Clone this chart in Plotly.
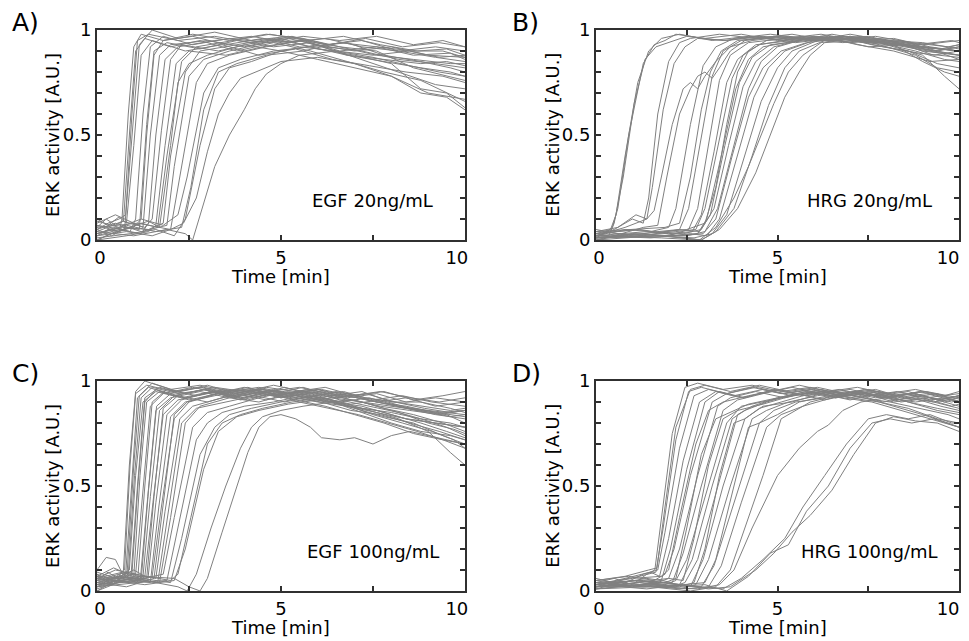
import plotly.graph_objects as go

GREY = "#808080"
AXIS = "#303030"
FONT = "DejaVu Sans"

# ERK activity traces, one list of (time [min], activity [A.U.]) per cell

egf20 = [
    [(0, .02), (0.3, .05), (0.6, .04), (0.68, .1), (0.85, .6), (1.0, .92), (1.2, .98), (1.8, .95), (2.6, .97), (3.5, .93), (4.5, .96), (5.5, .92), (6.5, .9), (7.5, .88), (8.5, .9), (9.3, .87), (10, .88)],
    [(0, .06), (0.25, .1), (0.5, .07), (0.72, .09), (0.9, .55), (1.05, .9), (1.3, .96), (2, .92), (2.8, .95), (3.8, .9), (4.8, .94), (5.8, .9), (6.8, .85), (7.8, .8), (8.8, .76), (9.5, .7), (10, .66)],
    [(0, .0), (0.4, .03), (0.75, .05), (0.95, .5), (1.15, .93), (1.5, 1.0), (2.2, .96), (3.2, .99), (4.2, .95), (5.2, .97), (6.2, .93), (7.2, .95), (8.2, .9), (9.2, .92), (10, .9)],
    [(0, .1), (0.3, .07), (0.6, .11), (0.8, .08), (1.0, .45), (1.2, .88), (1.5, .95), (2.4, .9), (3.4, .93), (4.4, .88), (5.4, .91), (6.4, .86), (7.4, .83), (8.4, .8), (9.4, .78), (10, .75)],
    [(0, .03), (0.5, .06), (0.9, .04), (1.05, .1), (1.25, .6), (1.45, .92), (1.8, .97), (2.6, .93), (3.6, .96), (4.6, .94), (5.6, .95), (6.6, .9), (7.6, .92), (8.6, .88), (9.6, .89), (10, .86)],
    [(0, .05), (0.4, .02), (0.8, .06), (1.15, .05), (1.35, .55), (1.55, .9), (1.9, .94), (2.8, .91), (3.8, .95), (4.8, .92), (5.8, .94), (6.8, .88), (7.8, .85), (8.8, .82), (9.6, .8), (10, .78)],
    [(0, .08), (0.5, .12), (1.0, .08), (1.25, .06), (1.45, .5), (1.7, .88), (2.0, .93), (3.0, .95), (4.0, .92), (5.0, .96), (6.0, .91), (7.0, .88), (8.0, .84), (8.8, .72), (9.5, .7), (10, .63)],
    [(0, .02), (0.6, .05), (1.2, .03), (1.4, .08), (1.6, .5), (1.85, .86), (2.2, .92), (3.2, .95), (4.2, .97), (5.2, .94), (6.2, .96), (7.2, .92), (8.2, .9), (9.2, .87), (10, .85)],
    [(0, .04), (0.7, .09), (1.3, .06), (1.5, .1), (1.75, .52), (2.0, .86), (2.3, .93), (3.3, .9), (4.3, .94), (5.3, .97), (6.3, .93), (7.3, .96), (8.3, .92), (9.3, .94), (10, .92)],
    [(0, .0), (0.8, .02), (1.4, .04), (1.6, .07), (1.85, .45), (2.15, .84), (2.5, .9), (3.5, .88), (4.5, .92), (5.5, .95), (6.5, .9), (7.5, .84), (8.5, .78), (9.2, .74), (10, .72)],
    [(0, .07), (0.6, .04), (1.2, .08), (1.65, .06), (1.9, .4), (2.3, .85), (2.7, .92), (3.7, .95), (4.7, .98), (5.7, .95), (6.7, .97), (7.7, .93), (8.7, .9), (9.5, .91), (10, .88)],
    [(0, .03), (0.7, .06), (1.4, .05), (1.8, .08), (2.0, .4), (2.4, .8), (2.8, .9), (3.8, .93), (4.8, .96), (5.8, .92), (6.8, .94), (7.8, .88), (8.8, .85), (9.6, .82), (10, .8)],
    [(0, .05), (0.5, .08), (1.2, .04), (1.9, .07), (2.1, .35), (2.5, .78), (2.9, .86), (3.6, .9), (4.6, .94), (5.6, .97), (6.6, .95), (7.6, .97), (8.6, .93), (9.4, .95), (10, .92)],
    [(0, .02), (0.8, .04), (1.5, .02), (2.0, .05), (2.25, .3), (2.7, .75), (3.0, .84), (3.6, .88), (4.6, .92), (5.6, .95), (6.6, .92), (7.6, .9), (8.6, .82), (9.3, .79), (10, .76)],
    [(0, .09), (0.6, .06), (1.2, .1), (1.8, .07), (2.2, .12), (2.45, .3), (2.9, .7), (3.3, .82), (3.9, .86), (4.8, .9), (5.8, .92), (6.8, .88), (7.8, .86), (8.8, .84), (9.5, .85), (10, .83)],
    [(0, .01), (0.9, .03), (1.6, .05), (2.1, .02), (2.4, .1), (2.8, .45), (3.2, .72), (3.6, .82), (4.2, .85), (5.0, .9), (6.0, .93), (7.0, .9), (8.0, .92), (9.0, .88), (10, .87)],
    [(0, .04), (1.0, .02), (1.9, .05), (2.4, .03), (2.6, .0), (2.8, .12), (3.2, .35), (3.6, .5), (4.0, .62), (4.3, .72), (4.6, .79), (5.0, .84), (5.5, .88), (6.5, .9), (7.5, .87), (8.5, .83), (9.3, .8), (10, .78)],
    [(0, .06), (1.1, .08), (2.0, .05), (2.35, .08), (2.7, .2), (3.0, .42), (3.3, .6), (3.6, .7), (3.9, .77), (4.3, .8), (5.0, .85), (6.0, .87), (7.0, .84), (8.0, .78), (8.8, .7), (9.5, .68), (10, .62)],
    [(0, .05), (0.3, .08), (0.6, .1), (0.78, .12), (0.95, .6), (1.1, .95), (1.4, .98), (2.2, .95), (3.2, .97), (4.2, .94), (5.2, .96), (6.2, .92), (7.2, .9), (8.2, .86), (9.2, .84), (10, .82)],
    [(0, .0), (0.5, .04), (1.0, .06), (1.2, .1), (1.35, .5), (1.55, .88), (1.8, .95), (2.6, .98), (3.6, .95), (4.6, .98), (5.6, .96), (6.6, .92), (7.6, .88), (8.6, .86), (9.6, .84), (10, .84)],
    [(0, .07), (0.7, .05), (1.4, .09), (1.7, .06), (2.0, .45), (2.2, .75), (2.5, .84), (3.0, .88), (4.0, .93), (5.0, .9), (6.0, .86), (7.0, .82), (8.0, .78), (9.0, .7), (10, .67)],
    [(0, .03), (0.8, .07), (1.6, .04), (2.3, .06), (2.55, .25), (2.9, .62), (3.3, .8), (3.8, .84), (4.6, .88), (5.6, .9), (6.6, .94), (7.6, .92), (8.6, .9), (9.4, .9), (10, .87)],
]

hrg20 = [
    [(0, .01), (0.3, .04), (0.45, .06), (0.6, .15), (0.9, .5), (1.3, .84), (1.6, .93), (1.9, .95), (2.2, .98), (3, .96), (4, .98), (5, .95), (6, .97), (7, .94), (8, .95), (9, .9), (10, .88)],
    [(0, .03), (0.35, .02), (0.5, .08), (0.75, .3), (1.05, .65), (1.35, .86), (1.65, .92), (2.0, .94), (2.5, .97), (3.5, .95), (4.5, .97), (5.5, .94), (6.5, .96), (7.5, .92), (8.5, .93), (9.3, .88), (10, .9)],
    [(0, .02), (0.5, .05), (1.0, .1), (1.3, .08), (1.45, .2), (1.7, .6), (2.0, .85), (2.3, .94), (2.6, .96), (3.4, .98), (4.4, .96), (5.4, .98), (6.4, .95), (7.4, .96), (8.4, .93), (9.4, .9), (10, .92)],
    [(0, .04), (0.6, .06), (1.1, .12), (1.4, .1), (1.55, .25), (1.85, .62), (2.15, .84), (2.45, .92), (2.8, .96), (3.6, .95), (4.6, .97), (5.6, .95), (6.6, .97), (7.6, .93), (8.6, .9), (9.4, .84), (10, .82)],
    [(0, .0), (0.7, .03), (1.3, .06), (1.7, .07), (1.95, .3), (2.3, .6), (2.6, .72), (2.8, .78), (3.0, .8), (3.2, .77), (3.4, .82), (3.7, .9), (4.1, .95), (5, .97), (6, .95), (7, .97), (8, .94), (9, .92), (10, .9)],
    [(0, .02), (0.8, .05), (1.5, .04), (2.0, .06), (2.2, .15), (2.6, .55), (2.95, .83), (3.3, .92), (3.8, .96), (4.8, .98), (5.8, .96), (6.8, .97), (7.8, .94), (8.8, .92), (10, .9)],
    [(0, .05), (0.9, .02), (1.7, .04), (2.3, .05), (2.55, .15), (2.9, .5), (3.2, .78), (3.5, .9), (4.0, .95), (5.0, .97), (6.0, .95), (7.0, .98), (8.0, .95), (9.0, .93), (10, .95)],
    [(0, .01), (1.0, .03), (2.0, .02), (2.55, .05), (2.8, .15), (3.1, .45), (3.4, .76), (3.7, .88), (4.2, .94), (5.2, .96), (6.2, .98), (7.2, .95), (8.2, .96), (9.2, .92), (10, .9)],
    [(0, .03), (1.1, .05), (2.0, .03), (2.65, .04), (2.9, .12), (3.25, .42), (3.6, .75), (3.9, .86), (4.4, .93), (5.4, .95), (6.4, .97), (7.4, .94), (8.4, .95), (9.4, .9), (10, .88)],
    [(0, .02), (1.2, .02), (2.2, .04), (2.75, .05), (3.0, .15), (3.4, .48), (3.75, .77), (4.05, .88), (4.5, .93), (5.5, .96), (6.5, .95), (7.5, .97), (8.5, .93), (9.5, .91), (10, .93)],
    [(0, .0), (1.0, .03), (2.1, .02), (2.8, .03), (3.05, .1), (3.45, .4), (3.85, .72), (4.2, .86), (4.6, .92), (5.5, .95), (6.5, .98), (7.5, .95), (8.5, .92), (9.5, .89), (10, .86)],
    [(0, .04), (1.3, .02), (2.3, .05), (2.85, .04), (3.15, .12), (3.55, .45), (3.95, .75), (4.3, .87), (4.8, .93), (5.8, .95), (6.8, .97), (7.8, .93), (8.8, .88), (9.4, .82), (10, .8)],
    [(0, .02), (1.4, .04), (2.4, .03), (2.9, .05), (3.25, .15), (3.65, .45), (4.05, .73), (4.4, .85), (4.9, .92), (5.8, .96), (6.8, .94), (7.8, .96), (8.8, .93), (9.8, .95), (10, .94)],
    [(0, .01), (1.5, .02), (2.5, .02), (3.0, .04), (3.35, .15), (3.8, .45), (4.2, .72), (4.55, .85), (5.0, .92), (6.0, .97), (7.0, .95), (8.0, .93), (9.0, .88), (9.6, .78), (10, .72)],
    [(0, .03), (1.2, .05), (2.3, .02), (2.95, .03), (3.3, .1), (3.75, .4), (4.2, .68), (4.6, .82), (5.1, .9), (5.8, .94), (6.8, .96), (7.8, .94), (8.8, .9), (9.6, .86), (10, .85)],
    [(0, .02), (1.5, .01), (2.6, .03), (3.05, .02), (3.4, .1), (3.9, .4), (4.35, .68), (4.75, .82), (5.2, .9), (6.0, .95), (7.0, .97), (8.0, .95), (9.0, .94), (10, .91)],
    [(0, .0), (1.6, .02), (2.7, .01), (3.2, .03), (3.6, .12), (4.05, .38), (4.55, .66), (5.0, .82), (5.4, .9), (6.1, .95), (7.1, .96), (8.1, .94), (9.1, .92), (10, .9)],
    [(0, .01), (1.8, .02), (2.9, .0), (3.3, .04), (3.8, .15), (4.3, .4), (4.75, .64), (5.2, .82), (5.6, .9), (6.3, .95), (7.3, .97), (8.3, .94), (9.3, .9), (10, .88)],
    [(0, .02), (1.8, .01), (2.85, .0), (3.3, .06), (3.8, .2), (4.2, .35), (4.55, .5), (4.9, .65), (5.3, .8), (5.7, .88), (6.2, .94), (7.0, .96), (8.0, .95), (9.0, .92), (10, .9)],
    [(0, .01), (1.9, .02), (2.9, .0), (3.4, .05), (3.9, .15), (4.4, .32), (4.8, .5), (5.2, .68), (5.6, .8), (5.9, .88), (6.3, .94), (7.2, .95), (8.2, .93), (9.0, .85), (9.6, .8), (10, .78)],
    [(0, .03), (0.4, .05), (0.55, .12), (0.8, .4), (1.15, .75), (1.45, .9), (1.8, .96), (2.3, .98), (3.2, .95), (4.2, .97), (5.2, .95), (6.2, .97), (7.2, .93), (8.2, .9), (9.2, .85), (10, .86)],
    [(0, .02), (0.8, .06), (1.4, .1), (1.6, .14), (1.8, .3), (2.1, .55), (2.4, .72), (2.6, .75), (2.8, .72), (3.0, .78), (3.3, .85), (3.7, .92), (4.3, .95), (5.3, .97), (6.3, .95), (7.3, .96), (8.3, .93), (9.3, .9), (10, .92)],
    [(0, .04), (1.0, .05), (1.9, .06), (2.3, .08), (2.6, .3), (2.9, .62), (3.15, .8), (3.45, .9), (3.9, .95), (4.9, .97), (5.9, .95), (6.9, .96), (7.9, .92), (8.9, .89), (9.9, .87), (10, .87)],
    [(0, .01), (1.3, .03), (2.5, .05), (3.0, .08), (3.3, .25), (3.6, .55), (3.9, .8), (4.2, .9), (4.7, .95), (5.7, .97), (6.7, .95), (7.7, .97), (8.7, .94), (9.7, .92), (10, .93)],
]

egf100 = [
    [(0, .05), (0.3, .09), (0.55, .06), (0.72, .1), (0.88, .6), (1.05, .95), (1.3, 1.0), (2.0, .96), (2.8, .98), (3.6, .95), (4.4, .97), (5.2, .94), (6.0, .96), (6.8, .92), (7.6, .94), (8.4, .9), (9.2, .92), (10, .9)],
    [(0, .02), (0.4, .06), (0.78, .08), (0.95, .55), (1.1, .92), (1.4, .97), (2.1, .93), (2.9, .96), (3.7, .92), (4.5, .95), (5.3, .92), (6.1, .9), (6.9, .86), (7.7, .84), (8.5, .8), (9.3, .76), (10, .72)],
    [(0, .08), (0.35, .04), (0.82, .09), (1.0, .6), (1.15, .93), (1.5, .99), (2.2, .95), (3.0, .98), (3.8, .94), (4.6, .97), (5.4, .95), (6.2, .97), (7.0, .93), (7.8, .95), (8.6, .91), (9.4, .93), (10, .95)],
    [(0, .1), (0.25, .16), (0.5, .15), (0.7, .08), (0.88, .1), (1.05, .55), (1.25, .9), (1.6, .95), (2.3, .92), (3.1, .95), (3.9, .91), (4.7, .94), (5.5, .9), (6.3, .87), (7.1, .84), (7.9, .8), (8.7, .76), (9.4, .72), (10, .7)],
    [(0, .04), (0.5, .07), (0.92, .06), (1.1, .5), (1.3, .92), (1.7, .97), (2.4, .94), (3.2, .97), (4.0, .95), (4.8, .98), (5.6, .95), (6.4, .93), (7.2, .9), (8.0, .88), (8.8, .86), (9.6, .83), (10, .84)],
    [(0, .0), (0.6, .04), (1.0, .07), (1.17, .55), (1.35, .9), (1.7, .95), (2.5, .91), (3.3, .94), (4.1, .97), (4.9, .93), (5.7, .96), (6.5, .92), (7.3, .94), (8.1, .9), (8.9, .87), (9.6, .85), (10, .86)],
    [(0, .06), (0.5, .1), (1.05, .08), (1.25, .5), (1.45, .88), (1.8, .94), (2.6, .97), (3.4, .94), (4.2, .96), (5.0, .92), (5.8, .95), (6.6, .91), (7.4, .88), (8.2, .85), (9.0, .8), (9.7, .77), (10, .75)],
    [(0, .03), (0.6, .05), (1.1, .04), (1.3, .5), (1.5, .9), (1.9, .96), (2.7, .93), (3.5, .96), (4.3, .93), (5.1, .97), (5.9, .93), (6.7, .95), (7.5, .91), (8.3, .93), (9.1, .9), (10, .88)],
    [(0, .07), (0.4, .03), (0.8, .08), (1.18, .06), (1.38, .45), (1.6, .86), (2.0, .92), (2.8, .95), (3.6, .92), (4.4, .95), (5.2, .93), (6.0, .9), (6.8, .88), (7.6, .85), (8.4, .82), (9.2, .8), (10, .78)],
    [(0, .01), (0.7, .05), (1.25, .07), (1.45, .45), (1.7, .86), (2.1, .93), (2.9, .96), (3.7, .93), (4.5, .96), (5.3, .94), (6.1, .96), (6.9, .93), (7.7, .95), (8.5, .92), (9.3, .9), (10, .92)],
    [(0, .09), (0.5, .06), (1.0, .1), (1.3, .07), (1.52, .42), (1.8, .84), (2.2, .91), (3.0, .94), (3.8, .96), (4.6, .93), (5.4, .95), (6.2, .91), (7.0, .87), (7.8, .83), (8.6, .8), (9.4, .74), (10, .7)],
    [(0, .04), (0.8, .07), (1.38, .05), (1.6, .42), (1.9, .84), (2.3, .91), (3.1, .95), (3.9, .92), (4.7, .95), (5.5, .97), (6.3, .94), (7.1, .92), (7.9, .89), (8.7, .86), (9.5, .84), (10, .8)],
    [(0, .02), (0.7, .06), (1.45, .04), (1.68, .4), (2.0, .83), (2.4, .9), (3.2, .93), (4.0, .96), (4.8, .93), (5.6, .95), (6.4, .92), (7.2, .9), (8.0, .86), (8.8, .82), (9.5, .78), (10, .74)],
    [(0, .06), (0.9, .04), (1.5, .07), (1.75, .4), (2.1, .82), (2.5, .9), (3.3, .94), (4.1, .91), (4.9, .95), (5.7, .92), (6.5, .95), (7.3, .92), (8.1, .9), (8.9, .88), (9.6, .86), (10, .87)],
    [(0, .05), (0.8, .09), (1.6, .06), (1.85, .38), (2.25, .82), (2.6, .88), (3.4, .92), (4.2, .95), (5.0, .92), (5.8, .94), (6.6, .9), (7.4, .86), (8.2, .82), (9.0, .76), (9.6, .66), (10, .6)],
    [(0, .03), (1.0, .06), (1.7, .04), (2.0, .35), (2.4, .8), (2.8, .88), (3.6, .92), (4.4, .9), (5.2, .94), (6.0, .91), (6.8, .93), (7.6, .9), (8.4, .87), (9.2, .84), (10, .82)],
    [(0, .07), (1.0, .05), (1.8, .08), (2.1, .35), (2.6, .78), (3.0, .85), (3.6, .88), (4.4, .92), (5.2, .95), (6.0, .92), (6.8, .94), (7.6, .9), (8.4, .88), (9.2, .85), (10, .83)],
    [(0, .02), (1.1, .04), (1.9, .05), (2.2, .3), (2.7, .72), (3.0, .8), (3.4, .85), (4.0, .88), (4.8, .9), (5.6, .93), (6.4, .9), (7.2, .88), (8.0, .84), (8.8, .8), (9.5, .76), (10, .73)],
    [(0, .04), (1.2, .06), (2.0, .04), (2.3, .25), (2.8, .65), (3.2, .78), (3.6, .84), (4.2, .87), (5.0, .9), (5.8, .93), (6.6, .9), (7.4, .92), (8.2, .88), (9.0, .86), (10, .84)],
    [(0, .06), (1.3, .03), (2.1, .05), (2.4, .2), (2.9, .58), (3.3, .76), (3.8, .83), (4.4, .86), (5.2, .89), (6.0, .91), (6.8, .88), (7.6, .86), (8.4, .82), (9.2, .8), (10, .78)],
    [(0, .03), (1.3, .05), (2.2, .02), (2.45, .0), (2.7, .08), (3.1, .3), (3.5, .5), (3.9, .68), (4.2, .78), (4.5, .83), (5.0, .86), (5.6, .88), (6.4, .9), (7.2, .87), (8.0, .85), (8.8, .82), (9.6, .8), (10, .78)],
    [(0, .05), (1.2, .07), (2.1, .06), (2.5, .02), (2.8, .0), (3.0, .06), (3.4, .28), (3.8, .5), (4.1, .66), (4.4, .78), (4.7, .83), (5.0, .84), (5.4, .82), (5.8, .78), (6.1, .73), (6.6, .72), (7.0, .73), (7.5, .7), (8.0, .74), (8.5, .76), (9.0, .74), (9.5, .72), (10, .7)],
    [(0, .08), (0.4, .05), (0.75, .1), (0.9, .6), (1.05, .94), (1.35, .98), (2.1, .95), (2.9, .97), (3.7, .94), (4.5, .96), (5.3, .93), (6.1, .95), (6.9, .91), (7.7, .88), (8.5, .86), (9.3, .84), (10, .86)],
    [(0, .03), (0.6, .07), (1.2, .05), (1.4, .48), (1.62, .88), (2.0, .94), (2.8, .97), (3.6, .94), (4.4, .96), (5.2, .94), (6.0, .96), (6.8, .93), (7.6, .9), (8.4, .92), (9.2, .88), (10, .9)],
    [(0, .0), (0.5, .05), (0.95, .08), (1.12, .52), (1.3, .9), (1.6, .96), (2.4, .92), (3.2, .95), (4.0, .92), (4.8, .96), (5.6, .92), (6.4, .9), (7.2, .85), (8.0, .8), (8.8, .76), (9.6, .74), (10, .72)],
    [(0, .06), (0.7, .09), (1.35, .06), (1.55, .45), (1.8, .87), (2.2, .93), (3.0, .9), (3.8, .94), (4.6, .91), (5.4, .94), (6.2, .9), (7.0, .91), (7.8, .87), (8.6, .84), (9.4, .8), (10, .76)],
    [(0, .04), (0.8, .02), (1.55, .06), (1.8, .42), (2.1, .84), (2.45, .9), (3.2, .94), (4.0, .97), (4.8, .94), (5.6, .97), (6.4, .93), (7.2, .95), (8.0, .9), (8.8, .9), (9.6, .87), (10, .85)],
    [(0, .07), (0.45, .11), (0.85, .08), (1.02, .55), (1.2, .92), (1.5, .97), (2.2, .94), (3.0, .96), (3.8, .93), (4.6, .95), (5.4, .91), (6.2, .88), (7.0, .84), (7.8, .8), (8.6, .75), (9.4, .72), (10, .68)],
    [(0, .02), (0.9, .05), (1.65, .04), (1.95, .4), (2.3, .8), (2.7, .87), (3.5, .9), (4.3, .93), (5.1, .9), (5.9, .93), (6.7, .89), (7.5, .84), (8.3, .8), (9.1, .76), (9.7, .72), (10, .68)],
    [(0, .05), (1.0, .08), (2.0, .05), (2.2, .08), (2.55, .35), (3.0, .7), (3.4, .8), (3.9, .84), (4.5, .87), (5.3, .9), (6.1, .92), (6.9, .89), (7.7, .91), (8.5, .87), (9.3, .85), (10, .86)],
]

hrg100 = [
    [(0, .04), (0.5, .06), (1.0, .03), (1.4, .08), (1.62, .1), (1.8, .35), (2.1, .75), (2.45, .97), (2.8, .99), (3.5, .96), (4.3, .98), (5.1, .95), (5.9, .97), (6.7, .94), (7.5, .96), (8.3, .93), (9.1, .95), (10, .92)],
    [(0, .02), (0.6, .05), (1.2, .07), (1.65, .09), (1.85, .3), (2.2, .72), (2.55, .95), (2.9, .97), (3.6, .94), (4.4, .97), (5.2, .94), (6.0, .96), (6.8, .93), (7.6, .95), (8.4, .9), (9.2, .92), (10, .88)],
    [(0, .06), (0.7, .03), (1.3, .08), (1.7, .1), (1.9, .28), (2.3, .68), (2.7, .93), (3.1, .96), (3.8, .93), (4.6, .96), (5.4, .93), (6.2, .95), (7.0, .92), (7.8, .94), (8.6, .9), (9.4, .86), (10, .84)],
    [(0, .03), (0.8, .06), (1.5, .09), (1.75, .07), (2.0, .25), (2.4, .62), (2.85, .9), (3.3, .95), (4.0, .92), (4.8, .95), (5.6, .98), (6.4, .95), (7.2, .97), (8.0, .94), (8.8, .96), (9.6, .93), (10, .95)],
    [(0, .01), (0.7, .04), (1.4, .06), (1.8, .05), (2.05, .2), (2.5, .58), (3.0, .9), (3.4, .95), (4.1, .92), (4.9, .96), (5.7, .93), (6.5, .95), (7.3, .92), (8.1, .9), (8.9, .87), (9.7, .84), (10, .82)],
    [(0, .05), (0.9, .07), (1.6, .05), (1.9, .08), (2.15, .2), (2.6, .55), (3.2, .9), (3.6, .94), (4.3, .97), (5.1, .94), (5.9, .96), (6.7, .93), (7.5, .95), (8.3, .92), (9.1, .94), (10, .9)],
    [(0, .02), (1.0, .05), (1.7, .04), (2.0, .06), (2.3, .2), (2.8, .55), (3.35, .88), (3.7, .92), (4.4, .95), (5.2, .92), (6.0, .95), (6.8, .92), (7.6, .9), (8.4, .86), (9.2, .82), (10, .78)],
    [(0, .04), (1.0, .02), (1.8, .05), (2.1, .04), (2.4, .18), (2.9, .5), (3.5, .86), (3.9, .91), (4.6, .94), (5.4, .97), (6.2, .94), (7.0, .96), (7.8, .93), (8.6, .95), (9.4, .91), (10, .93)],
    [(0, .03), (1.1, .05), (1.9, .03), (2.2, .05), (2.5, .15), (3.0, .45), (3.6, .8), (4.0, .88), (4.6, .9), (5.4, .93), (6.2, .96), (7.0, .93), (7.8, .95), (8.6, .92), (9.4, .94), (10, .9)],
    [(0, .05), (1.2, .03), (2.0, .04), (2.3, .03), (2.65, .15), (3.2, .5), (3.75, .82), (4.1, .86), (4.7, .9), (5.5, .94), (6.3, .91), (7.1, .94), (7.9, .9), (8.7, .92), (9.5, .88), (10, .86)],
    [(0, .02), (1.2, .04), (2.1, .02), (2.45, .04), (2.8, .15), (3.35, .5), (3.9, .84), (4.3, .88), (5.0, .92), (5.8, .95), (6.6, .92), (7.4, .94), (8.2, .91), (9.0, .93), (9.8, .9), (10, .91)],
    [(0, .04), (1.3, .02), (2.2, .03), (2.6, .02), (2.95, .15), (3.5, .5), (4.1, .82), (4.5, .87), (5.1, .9), (5.9, .94), (6.7, .96), (7.5, .93), (8.3, .95), (9.1, .92), (10, .94)],
    [(0, .01), (1.3, .03), (2.3, .01), (2.75, .03), (3.1, .15), (3.7, .5), (4.3, .82), (4.7, .86), (5.3, .9), (6.1, .93), (6.9, .95), (7.7, .92), (8.5, .94), (9.3, .9), (10, .92)],
    [(0, .03), (1.4, .01), (2.4, .03), (2.9, .02), (3.25, .12), (3.85, .45), (4.5, .8), (4.9, .86), (5.5, .9), (6.3, .92), (7.1, .95), (7.9, .92), (8.7, .94), (9.5, .91), (10, .93)],
    [(0, .02), (1.5, .03), (2.5, .01), (3.1, .02), (3.45, .12), (4.0, .42), (4.7, .78), (5.1, .84), (5.7, .88), (6.5, .92), (7.3, .95), (8.1, .92), (8.9, .95), (9.7, .92), (10, .93)],
    [(0, .01), (1.5, .02), (2.6, .0), (3.3, .02), (3.7, .1), (4.2, .35), (4.6, .55), (5.1, .82), (5.4, .85), (5.9, .9), (6.6, .93), (7.4, .96), (8.2, .93), (9.0, .95), (9.8, .92), (10, .93)],
    [(0, .03), (1.6, .02), (2.8, .01), (3.4, .03), (3.8, .1), (4.3, .3), (5.0, .55), (5.6, .68), (6.1, .76), (6.4, .79), (6.8, .86), (7.3, .9), (8.0, .92), (8.8, .9), (9.6, .92), (10, .9)],
    [(0, .02), (1.7, .03), (2.9, .02), (3.5, .01), (4.0, .06), (4.6, .15), (5.2, .25), (5.7, .4), (6.3, .55), (6.9, .7), (7.5, .82), (8.0, .84), (8.6, .82), (9.2, .84), (9.8, .8), (10, .8)],
    [(0, .04), (1.8, .02), (3.0, .03), (3.6, .0), (4.2, .07), (4.8, .18), (5.3, .22), (5.8, .38), (6.4, .5), (7.0, .68), (7.6, .8), (8.1, .82), (8.7, .8), (9.3, .82), (10, .78)],
    [(0, .01), (1.8, .04), (3.1, .01), (3.7, .02), (4.4, .1), (4.9, .18), (5.4, .28), (5.9, .36), (6.5, .48), (7.1, .65), (7.7, .8), (8.2, .83), (8.8, .81), (9.4, .8), (10, .76)],
    [(0, .05), (0.8, .07), (1.45, .1), (1.68, .11), (1.9, .4), (2.2, .78), (2.6, .96), (3.0, .98), (3.7, .95), (4.5, .98), (5.3, .95), (6.1, .97), (6.9, .94), (7.7, .96), (8.5, .92), (9.3, .9), (10, .87)],
    [(0, .03), (1.0, .06), (1.8, .07), (2.0, .1), (2.3, .35), (2.75, .7), (3.1, .86), (3.5, .9), (4.2, .93), (5.0, .96), (5.8, .93), (6.6, .95), (7.4, .92), (8.2, .88), (9.0, .84), (9.7, .8), (10, .78)],
    [(0, .02), (1.1, .04), (2.0, .06), (2.4, .05), (2.7, .25), (3.1, .6), (3.5, .82), (3.9, .86), (4.6, .89), (5.4, .93), (6.2, .95), (7.0, .92), (7.8, .9), (8.6, .87), (9.4, .82), (10, .8)],
    [(0, .04), (1.3, .05), (2.4, .03), (3.0, .04), (3.3, .15), (3.8, .5), (4.2, .78), (4.5, .8), (5.0, .84), (5.6, .9), (6.4, .93), (7.2, .95), (8.0, .92), (8.8, .94), (9.6, .9), (10, .92)],
    [(0, .03), (1.1, .05), (1.9, .04), (2.2, .06), (2.5, .3), (2.9, .65), (3.3, .82), (3.7, .85), (4.2, .89), (5.0, .92), (5.8, .95), (6.6, .92), (7.4, .94), (8.2, .9), (9.0, .92), (9.8, .88), (10, .89)],
    [(0, .02), (1.2, .04), (2.3, .02), (2.7, .04), (3.0, .2), (3.4, .55), (3.8, .8), (4.1, .82), (4.6, .88), (5.4, .9), (6.2, .94), (7.0, .91), (7.8, .94), (8.6, .9), (9.4, .87), (10, .85)],
]

panels = [
    ("A)", "EGF 20ng/mL", egf20, 5.8),
    ("B)", "HRG 20ng/mL", hrg20, 5.75),
    ("C)", "EGF 100ng/mL", egf100, 5.65),
    ("D)", "HRG 100ng/mL", hrg100, 5.6),
]
time_ticks = ["0", "5", "10"]
# the end labels sit a little inside the frame, as in the original figure
time_label_pos = [[0.08, 5, 9.78], [0.08, 5, 9.7]]

# the page puts an 8px margin round the figure, so it is drawn at 961x633
x_domains = [[0.0926, 0.4755], [0.6119, 0.9896]]
y_domains = [[0.6335, 0.9652], [0.0790, 0.4107]]

fig = go.Figure()
annotations = []
for i, (letter, condition, cells, label_x) in enumerate(panels):
    n = "" if i == 0 else str(i + 1)
    xa, ya = "x" + n, "y" + n
    for cell in cells:
        fig.add_trace(go.Scatter(
            x=[p[0] for p in cell], y=[p[1] for p in cell],
            mode="lines", line=dict(color=GREY, width=1),
            xaxis=xa, yaxis=ya, showlegend=False, hoverinfo="skip",
        ))
    axis_style = dict(
        showline=True, linecolor=AXIS, linewidth=2, mirror="ticks",
        ticks="inside", ticklen=5, tickwidth=2, tickcolor=AXIS,
        showgrid=False, zeroline=False, automargin=False,
        tickfont=dict(family=FONT, size=18, color="black"),
    )
    fig.layout["xaxis" + n] = dict(
        axis_style, domain=x_domains[i % 2], anchor=ya, range=[0, 10],
        tickvals=time_label_pos[i % 2], ticktext=time_ticks, ticklen=0,
        ticklabeloverflow="allow",
        minor=dict(dtick=2.5, ticks="inside", ticklen=5, tickwidth=2, tickcolor=AXIS),
    )
    fig.layout["yaxis" + n] = dict(
        axis_style, domain=y_domains[i // 2], anchor=xa, range=[0, 1],
        tickvals=[0, 0.5, 1], ticktext=["0", "0.5", "1"],
        minor=dict(dtick=0.1, ticks="inside", ticklen=5, tickwidth=2, tickcolor=AXIS),
    )
    dx, dy = xa + " domain", ya + " domain"
    annotations += [
        dict(text=letter, xref=dx, yref=dy, x=-0.237, y=1.035, xanchor="left",
             yanchor="middle", font=dict(size=25)),
        dict(text="ERK activity [A.U.]", xref=dx, yref=dy, x=-0.122, y=0.5,
             textangle=-90, xanchor="center", yanchor="middle"),
        dict(text="Time [min]", xref=dx, yref=dy, x=0.5, y=-0.172,
             xanchor="center", yanchor="middle"),
        dict(text=condition, xref=xa, yref=ya, x=label_x, y=0.19,
             xanchor="left", yanchor="middle"),
    ]

for a in annotations:
    a["showarrow"] = False
fig.update_layout(
    width=961, height=633, margin=dict(l=0, r=0, t=0, b=0),
    paper_bgcolor="white", plot_bgcolor="white",
    font=dict(family=FONT, size=18, color="black"),
    annotations=annotations,
)
fig.write_html("out.html")
